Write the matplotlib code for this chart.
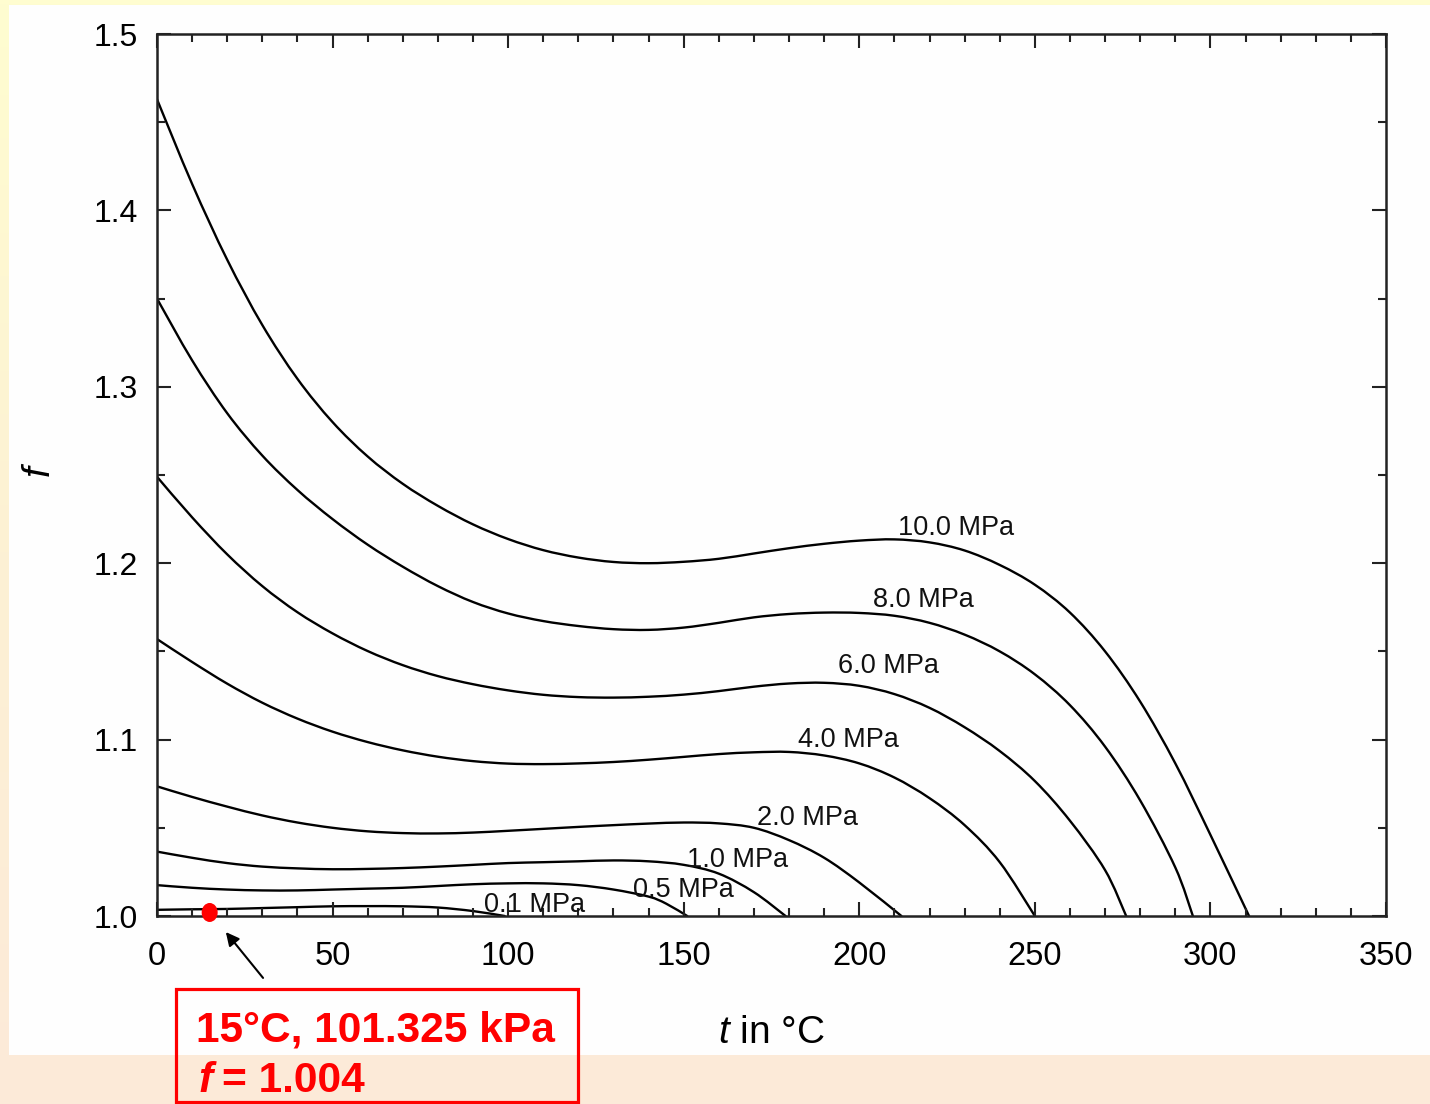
import numpy as np
import matplotlib
matplotlib.use("Agg")
import matplotlib.pyplot as plt
from matplotlib.patches import Rectangle, Ellipse, PathPatch
from matplotlib.path import Path
from matplotlib.colors import LinearSegmentedColormap
from matplotlib.ticker import MultipleLocator, FormatStrFormatter

plt.rcParams['font.family'] = ['Liberation Sans', 'DejaVu Sans']
plt.rcParams['mathtext.fontset'] = 'custom'
plt.rcParams['mathtext.it'] = 'Liberation Sans:italic'
plt.rcParams['mathtext.rm'] = 'Liberation Sans'

# ---------------- data ----------------
pressures = ["10.0 MPa", "8.0 MPa", "6.0 MPa", "4.0 MPa", "2.0 MPa", "1.0 MPa", "0.5 MPa", "0.1 MPa"]

t_10 = [0, 10, 20, 30, 40, 50, 60, 70, 80, 90, 100, 110, 120, 130, 140, 150, 160, 170, 180, 190,
        200, 210, 220, 230, 240, 250, 260, 270, 280, 290, 300, 311]
f_10 = [1.463, 1.415, 1.372, 1.335, 1.3045, 1.280, 1.2605, 1.245, 1.2325, 1.222, 1.2137, 1.2074,
        1.2032, 1.2007, 1.2000, 1.2008, 1.2025, 1.2055, 1.2085, 1.211, 1.2128, 1.2135, 1.2118,
        1.2072, 1.1990, 1.1878, 1.1720, 1.1500, 1.1215, 1.0865, 1.046, 1.000]

t_8 = [0, 10, 20, 30, 40, 50, 60, 70, 80, 90, 100, 110, 120, 130, 140, 150, 160, 170, 180, 190,
       200, 210, 220, 230, 240, 250, 260, 270, 280, 290, 295]
f_8 = [1.350, 1.315, 1.285, 1.261, 1.2415, 1.225, 1.2105, 1.198, 1.187, 1.178, 1.1715, 1.1672,
       1.1644, 1.1626, 1.1622, 1.1635, 1.1662, 1.1693, 1.1712, 1.172, 1.1718, 1.1702, 1.1662,
       1.1595, 1.150, 1.137, 1.1195, 1.096, 1.0655, 1.0275, 1.000]

t_6 = [0, 10, 20, 30, 40, 50, 60, 70, 80, 90, 100, 110, 120, 130, 140, 150, 160, 170, 180, 190,
       200, 210, 220, 230, 240, 250, 260, 270, 276]
f_6 = [1.249, 1.226, 1.205, 1.187, 1.1722, 1.1602, 1.1502, 1.1422, 1.136, 1.1314, 1.1279, 1.1254,
       1.1241, 1.1238, 1.1243, 1.1255, 1.1275, 1.1300, 1.1318, 1.1322, 1.1305, 1.1258, 1.1180,
       1.1070, 1.0935, 1.0765, 1.0540, 1.0260, 1.000]

t_4 = [0, 10, 20, 30, 40, 50, 60, 70, 80, 90, 100, 110, 120, 130, 140, 150, 160, 170, 180, 190,
       200, 210, 220, 230, 240, 250]
f_4 = [1.157, 1.144, 1.1317, 1.1209, 1.1119, 1.1045, 1.0986, 1.0939, 1.0903, 1.0878, 1.0864,
       1.0861, 1.0865, 1.0873, 1.0886, 1.0902, 1.0918, 1.0928, 1.093, 1.091, 1.0865, 1.0785,
       1.0668, 1.0515, 1.0305, 1.000]

t_2 = [0, 10, 20, 30, 40, 50, 60, 70, 80, 90, 100, 110, 120, 130, 140, 150, 160, 170, 180, 190,
       200, 212]
f_2 = [1.0735, 1.0675, 1.062, 1.057, 1.053, 1.050, 1.048, 1.047, 1.0468, 1.0473, 1.0483, 1.0494,
       1.0505, 1.0515, 1.0524, 1.053, 1.0525, 1.050, 1.043, 1.033, 1.019, 1.000]

t_1 = [0, 10, 20, 30, 40, 50, 60, 70, 80, 90, 100, 110, 120, 130, 140, 150, 160, 170, 179]
f_1 = [1.0365, 1.033, 1.030, 1.028, 1.027, 1.0265, 1.0267, 1.0272, 1.028, 1.029, 1.030, 1.0305,
       1.031, 1.0315, 1.031, 1.029, 1.024, 1.0135, 1.000]

t_05 = [0, 10, 20, 30, 40, 50, 60, 70, 80, 90, 100, 110, 120, 130, 140, 145, 151]
f_05 = [1.0175, 1.016, 1.015, 1.0145, 1.0145, 1.015, 1.0155, 1.016, 1.017, 1.018, 1.0185, 1.0185,
        1.0175, 1.015, 1.011, 1.007, 1.000]

t_01 = [0, 10, 20, 30, 40, 50, 60, 70, 80, 90, 99]
f_01 = [1.0035, 1.0038, 1.004, 1.0045, 1.005, 1.0055, 1.0056, 1.0055, 1.0048, 1.0028, 1.000]

# curve label anchors (left, baseline) in data units
label_t = [211, 204, 194, 182.5, 171, 151, 135.5, 93]
label_f = [1.2160, 1.1752, 1.1378, 1.0958, 1.0516, 1.0278, 1.0108, 1.0023]

point_t = 15
point_f = 1.002
point_text1 = "15°C, 101.325 kPa"
point_text2 = "= 1.004"

x_ticks = [0, 50, 100, 150, 200, 250, 300, 350]
y_ticks = [1.0, 1.1, 1.2, 1.3, 1.4, 1.5]

series_t = [t_10, t_8, t_6, t_4, t_2, t_1, t_05, t_01]
series_f = [f_10, f_8, f_6, f_4, f_2, f_1, f_05, f_01]


def smooth_path(xs, ys):
    """Catmull-Rom curve through the given points, as cubic Bezier segments."""
    p = np.column_stack([xs, ys]).astype(float)
    n = len(p)
    verts = [p[0]]
    codes = [Path.MOVETO]
    for i in range(n - 1):
        p0 = p[i - 1] if i > 0 else p[i]
        p1 = p[i]
        p2 = p[i + 1]
        p3 = p[i + 2] if i + 2 < n else p[i + 1]
        c1 = p1 + (p2 - p0) / 6.0
        c2 = p2 - (p3 - p1) / 6.0
        verts += [c1, c2, p2]
        codes += [Path.CURVE4] * 3
    return Path(verts, codes)


# ---------------- figure ----------------
W, H = 1430, 1104
fig = plt.figure(figsize=(W / 100, H / 100), dpi=100)

def fx(x):
    return x / W

def fy(y):
    return 1 - y / H

# background gradient (yellow -> peach)
bg = fig.add_axes([0, 0, 1, 1], zorder=-10)
cmap = LinearSegmentedColormap.from_list("bgc", ["#FFFDD0", "#FDF1D4", "#FCEAD9"])
bg.imshow(np.linspace(0, 1, 256).reshape(-1, 1), aspect='auto', cmap=cmap,
          extent=[0, 1, 0, 1], origin='upper')
bg.set_xlim(0, 1)
bg.set_ylim(0, 1)
bg.axis('off')
bg.add_patch(Rectangle((fx(9), fy(1055)), 1 - fx(9), fy(5) - fy(1055),
                       facecolor='#FEFEFE', edgecolor='none', transform=bg.transAxes))

ax = fig.add_axes([fx(157), fy(916), fx(1386) - fx(157), fy(34) - fy(916)])
ax.set_facecolor('#FEFEFE')

for ts, fs in zip(series_t, series_f):
    ax.add_patch(PathPatch(smooth_path(ts, fs), facecolor='none', edgecolor='black',
                           lw=1.7, capstyle='round', joinstyle='round'))

for lab, lt, lf in zip(pressures, label_t, label_f):
    ax.text(lt, lf, lab, fontsize=19.5, ha='left', va='baseline', color='#111111')

ax.set_xlim(0, 350)
ax.set_ylim(1.0, 1.5)
ax.set_xticks(x_ticks)
ax.set_yticks(y_ticks)
ax.xaxis.set_minor_locator(MultipleLocator(10))
ax.yaxis.set_minor_locator(MultipleLocator(0.05))
ax.yaxis.set_major_formatter(FormatStrFormatter('%.1f'))
ax.tick_params(which='both', direction='in', top=True, right=True, width=1.5, color='#222222')
ax.tick_params(which='major', length=10)
ax.tick_params(which='minor', length=5.5)
ax.tick_params(axis='x', which='major', labelsize=23.5, pad=18)
ax.tick_params(axis='y', which='major', labelsize=23, pad=14)
for sp in ax.spines.values():
    sp.set_linewidth(1.8)
    sp.set_color('#222222')

ax.set_xlabel(r"$t$ in °C", fontsize=28)
ax.xaxis.set_label_coords(0.5, (916 - 1043) / 882)
ax.xaxis.label.set_va('baseline')
ax.set_ylabel(r"$f$", fontsize=28)
ax.yaxis.set_label_coords((40 - 157) / 1229, 0.506)
ax.yaxis.label.set_va('center')

# highlighted point and arrow
ax.add_patch(Ellipse((point_t, point_f), 16 / 3.511, 19 / 1764, facecolor='#FF0000',
                     edgecolor='none', clip_on=False, zorder=6))
ax.annotate("", xy=(19.6, 0.9909), xytext=(30.2, 0.9649), xycoords='data',
            arrowprops=dict(arrowstyle='-|>', color='black', lw=1.5, mutation_scale=20,
                            shrinkA=0, shrinkB=0),
            annotation_clip=False)

# red callout box
fig.patches.append(Rectangle((fx(176), fy(1102)), fx(578) - fx(176), fy(989) - fy(1102),
                             facecolor='none', edgecolor='#FF0000', lw=2.3,
                             transform=fig.transFigure, figure=fig, zorder=5))
fig.text(fx(196), fy(1042), point_text1, color='#FF0000', fontsize=30.6, fontweight='bold',
         ha='left', va='baseline')
fig.text(fx(198), fy(1092), "f", color='#FF0000', fontsize=30.6, fontweight='bold',
         fontstyle='italic', ha='left', va='baseline')
fig.text(fx(222), fy(1092), point_text2, color='#FF0000', fontsize=30.6, fontweight='bold',
         ha='left', va='baseline')

fig.savefig("out.png", dpi=100)
